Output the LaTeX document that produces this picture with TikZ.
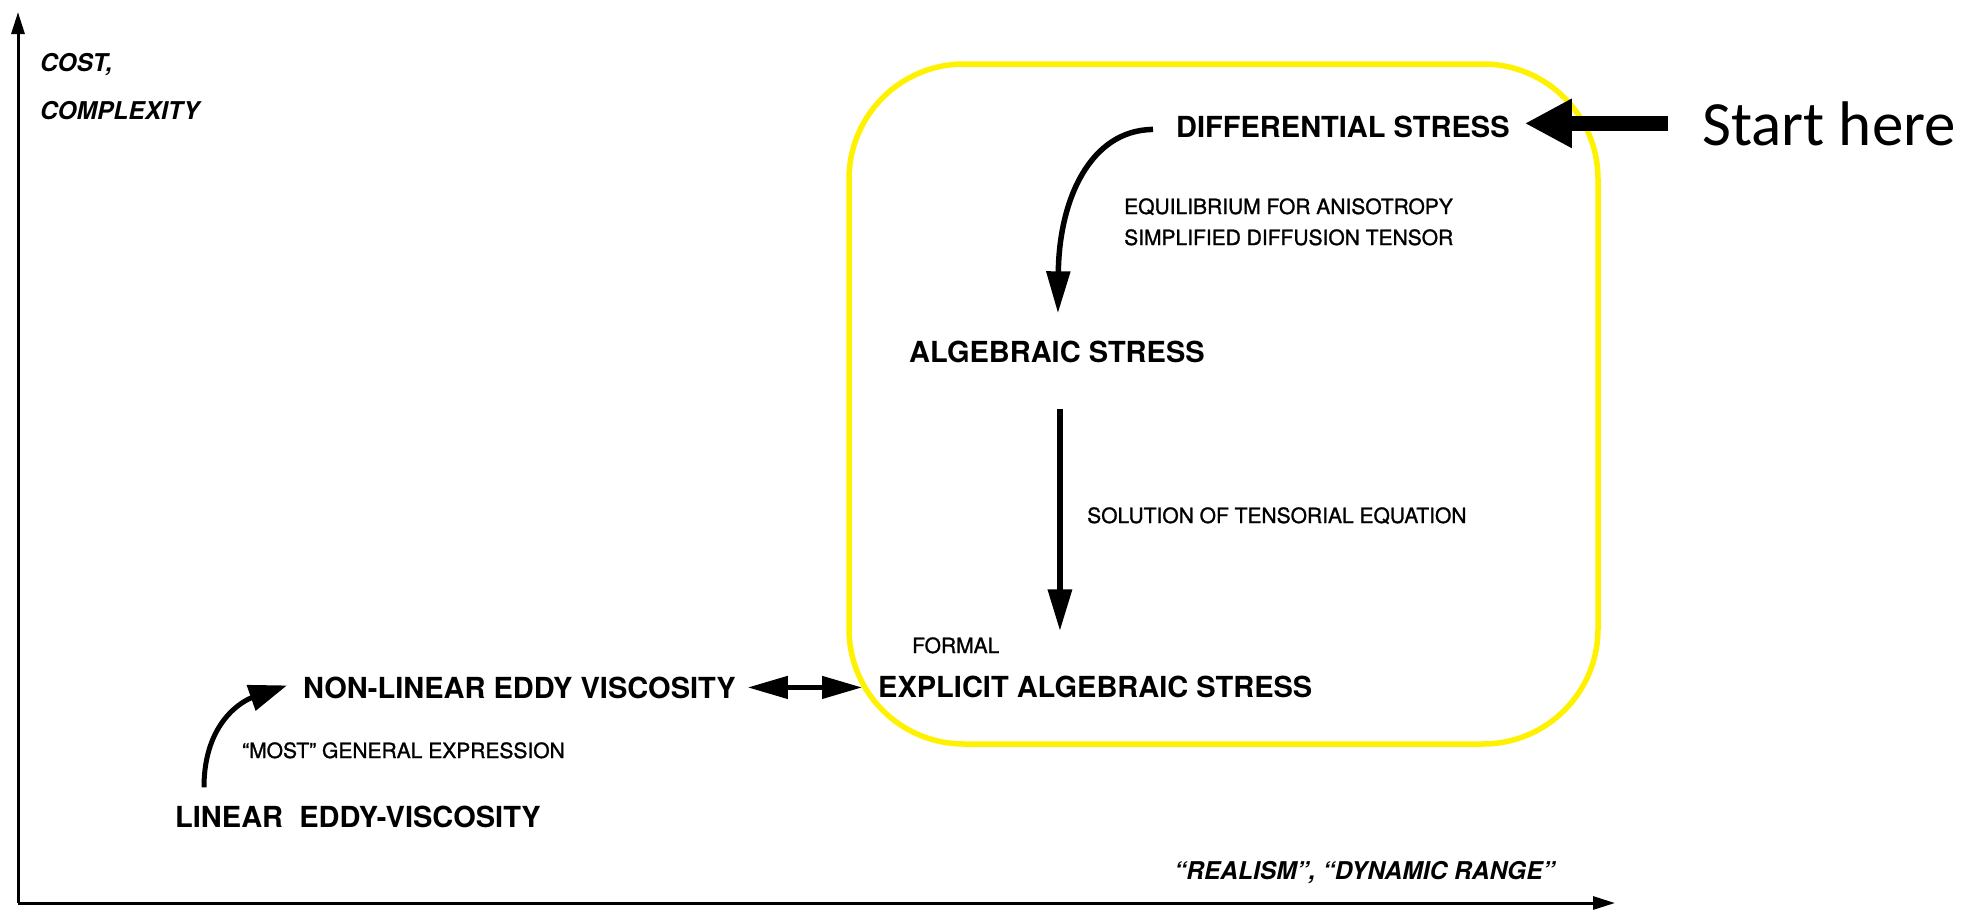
\documentclass[tikz,border=0pt]{standalone}
\usepackage{fontspec}
\setmainfont{TeX Gyre Heros}
\newfontfamily\calfont{Carlito}
\newfontfamily\notefont[FakeBold=1.2]{TeX Gyre Heros}
\usetikzlibrary{arrows.meta,calc}

\begin{document}
\begin{tikzpicture}[x=1pt,y=-1pt,
  lbl/.style={inner sep=0pt, anchor=base west},
  big/.style={lbl, font=\fontsize{29}{34}\selectfont\bfseries},
  small/.style={lbl, font=\notefont\fontsize{21}{25}\selectfont},
  axislbl/.style={lbl, font=\fontsize{24.5}{29}\selectfont\bfseries\itshape},
  axis/.style={line width=3pt, -{Triangle[length=22pt,width=13pt]}},
  flow/.style={line width=6.5pt, -{Triangle[length=42pt,width=23pt]}},
  frame/.style={draw=yellow, line width=5.5pt, rounded corners=115pt}
]
\useasboundingbox (0,0) rectangle (1985,916);

% axes
\coordinate (O) at (18,903);
\coordinate (ytop) at (18,12);
\coordinate (xend) at (1615,903);
\draw[axis] (O) -- (ytop);
\draw[axis] (O) -- (xend);
\node[axislbl] (cost) at (40,71) {COST,};
\node[axislbl] (cplx) at (40,119) {COMPLEXITY};
\node[axislbl] (real) at (1174,879) {“REALISM”, “DYNAMIC RANGE”};

% highlighted group of stress models
\draw[frame] (849,64) rectangle (1598,744);

% model names
\node[big] (dif) at (1176,137) {DIFFERENTIAL STRESS};
\node[big] (alg) at (909,362) {ALGEBRAIC STRESS};
\node[big] (expl) at (878,697) {EXPLICIT ALGEBRAIC STRESS};
\node[big] (nonlin) at (303,698) {NON-LINEAR EDDY VISCOSITY};
\node[big] (lin) at (175,827) {LINEAR\ \ EDDY-VISCOSITY};

% step descriptions
\node[small] (eq1) at (1124,214) {EQUILIBRIUM FOR ANISOTROPY};
\node[small] (eq2) at (1124,245) {SIMPLIFIED DIFFUSION TENSOR};
\node[small] (sol) at (1087,523) {SOLUTION OF TENSORIAL EQUATION};
\node[small] (formal) at (912,653) {FORMAL};
\node[small] (most) at (242,758) {“MOST” GENERAL EXPRESSION};

% entry marker
\node[lbl, font=\calfont\fontsize{63}{70}\selectfont] (start) at (1702,145) {Start here};

% connectors
\draw[flow, line width=5.5pt] ($(dif.west)+(-23,3)$)
  .. controls (1090,130) and (1059,200) .. ($(alg.north)+(1,-27)$);
\draw[flow] ($(alg.south)+(3,46)$) -- ($(alg.south |- expl.north)+(3,-44)$);
\draw[line width=4.5pt, {Triangle[length=40pt,width=22pt]}-{Triangle[length=40pt,width=22pt]}]
  ($(nonlin.east)+(12,0)$) -- ($(nonlin.east -| expl.west)+(-16,0)$);
\draw[line width=5pt, -{Triangle[length=38pt,width=26pt]}]
  ($(lin.north west)+(29,-18)$) .. controls (204,720) and (245,700) .. ($(nonlin.west)+(-16,-2)$);
\draw[line width=15pt, -{Triangle[length=47pt,width=46pt]}]
  ($(start.west)+(-34,0)$) -- ($(start.west -| dif.east)+(15,0)$);
\end{tikzpicture}
\end{document}
